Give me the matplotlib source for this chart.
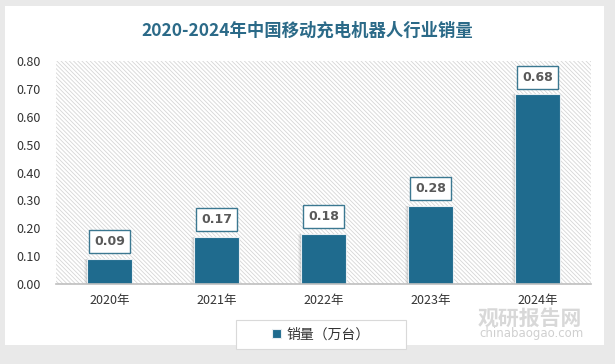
import matplotlib
matplotlib.use("Agg")
import matplotlib.pyplot as plt
from matplotlib.patches import Rectangle
import numpy as np

plt.rcParams['font.family'] = ['Noto Sans CJK SC', 'DejaVu Sans']
plt.rcParams['hatch.linewidth'] = 0.6

categories = ['2020年', '2021年', '2022年', '2023年', '2024年']
sales = [0.09, 0.17, 0.18, 0.28, 0.68]
yticks = [0.0, 0.1, 0.2, 0.3, 0.4, 0.5, 0.6, 0.7, 0.8]
title = '2020-2024年中国移动充电机器人行业销量'
legend_label = '销量（万台）'

W, H = 615, 364
fig = plt.figure(figsize=(W / 100, H / 100), dpi=100, facecolor='#e9e9e9')

# white card
fig.add_artist(Rectangle((5 / W, 19 / H), 599 / W, 339 / H, transform=fig.transFigure,
                         facecolor='white', edgecolor='none', zorder=-10))
# legend frame
fig.add_artist(Rectangle((236 / W, (H - 349) / H), 170 / W, 29 / H, transform=fig.transFigure,
                         facecolor='white', edgecolor='#d9d9d9', linewidth=0.8, zorder=-5))

ax = fig.add_axes([56 / W, (H - 284) / H, 535 / W, 223 / H])
ax.set_zorder(1)
ax.set_facecolor('none')
ax.set_xlim(-0.5, len(categories) - 0.5)
ax.set_ylim(0, 0.8)

# hatched plot background
ax.add_patch(Rectangle((0, 0), 1, 1, transform=ax.transAxes, facecolor='white',
                       edgecolor='#d6d6d6', hatch='\\\\\\\\\\\\\\\\', linewidth=0, zorder=0))

x = np.arange(len(categories))
bw = 0.42
# soft shadow
for dx, a in [(-0.03, 0.08), (-0.02, 0.1), (-0.01, 0.14)]:
    ax.bar(x + dx, sales, width=bw, color='#7f7f7f', alpha=a, zorder=2, linewidth=0)
ax.bar(x, sales, width=bw, color='#1f6b8e', edgecolor='#e8eef2', linewidth=0.8, zorder=3,
       label=legend_label)

for xi, v in zip(x, sales):
    ax.annotate(f'{v:.2f}', (xi, v), xytext=(0, 12.5), textcoords='offset points',
                ha='center', va='center', fontsize=9, fontweight='bold', color='#595959',
                family='DejaVu Sans',
                bbox=dict(boxstyle='square,pad=0.4', facecolor='white', edgecolor='#3b7891',
                          linewidth=1.0), zorder=5)

for s in ['top', 'right', 'left']:
    ax.spines[s].set_visible(False)
ax.spines['bottom'].set_color('#bfbfbf')
ax.spines['bottom'].set_linewidth(1.2)
ax.spines['bottom'].set_zorder(4)

ax.set_xticks(x)
ax.set_xticklabels(categories, fontsize=9, color='#333333')
ax.set_yticks(yticks)
ax.set_yticklabels([f'{t:.2f}' for t in yticks], fontsize=9, color='#333333')
ax.tick_params(axis='both', length=0)
ax.tick_params(axis='x', pad=7)
ax.tick_params(axis='y', pad=11)

fig.text(0.5, (H - 31) / H, title, ha='center', va='center', fontsize=12.5,
         fontweight='bold', color='#2b6a88')

leg = fig.legend(loc='center', bbox_to_anchor=(321 / W, (H - 334.5) / H), frameon=False,
                 fontsize=10, handlelength=0.6, handleheight=0.6, handletextpad=0.4,
                 borderpad=0.2)
for t in leg.get_texts():
    t.set_color('#333333')

# watermark
fig.text(530 / W, (H - 318) / H, '观研报告网', ha='center', va='center', fontsize=15,
         fontweight='bold', color='#cfcfcf', alpha=0.8, zorder=10)
fig.text(532 / W, (H - 334) / H, 'chinabaogao.com', ha='center', va='center', fontsize=8.5,
         color='#c4c4c4', alpha=0.8, zorder=10, family='DejaVu Sans')

fig.savefig('out.png', dpi=100, facecolor=fig.get_facecolor())
